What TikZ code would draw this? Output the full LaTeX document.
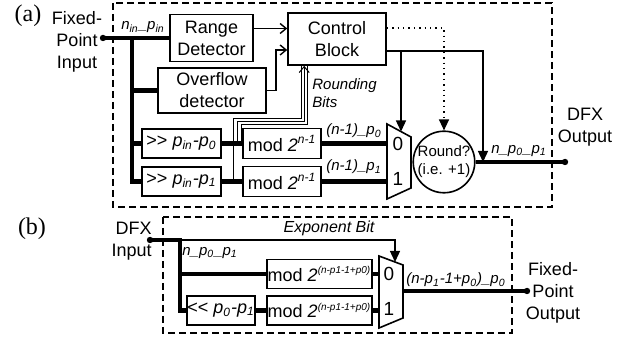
\documentclass[tikz,border=0pt]{standalone}
\usepackage{fontspec}
\setmainfont{Liberation Sans}
\newfontfamily\tagfont{Liberation Serif}
\usetikzlibrary{arrows.meta,calc}
\newcommand{\hi}[1]{\textsuperscript{\textit{#1}}}
\newcommand{\hib}[1]{\textsuperscript{\fontsize{5}{5}\selectfont\itshape #1}}
\newcommand{\lo}[1]{\textsubscript{#1}}

\begin{document}
\begin{tikzpicture}[x=0.5pt,y=-0.5pt,
  blk/.style={draw,line width=0.8pt,inner sep=0pt,align=center,font=\fontsize{9}{11}\selectfont},
  txt/.style={inner sep=0pt,align=center,font=\fontsize{9}{11}\selectfont},
  lbl/.style={inner sep=0pt,font=\fontsize{7.5}{9}\selectfont\itshape},
  pin/.style={inner sep=0pt,font=\fontsize{9.5}{10}\selectfont},
  bus/.style={line width=2.2pt},
  wire/.style={line width=0.7pt},
  rbw/.style={line width=0.5pt},
  grp/.style={draw,line width=0.6pt,dash pattern=on 3.5pt off 2pt},
  mux/.style={draw,line width=0.8pt,fill=white},
  barb/.style={-{Straight Barb[length=3pt,width=5pt]}},
  tri/.style={-{Triangle[length=5.5pt,width=5pt]}}]
  \useasboundingbox (0,0) rectangle (642,340);

  % ----- (a) -----
  \node[font=\fontsize{12}{12}\selectfont\tagfont] (taga) at (28,16) {(a)};
  \node[txt] (fpin) at (77,42) {Fixed-\\Point\\Input};
  \draw[grp] (113,3) rectangle (552,207);

  % detectors and control
  \node[blk,minimum width=41.5pt,minimum height=23.5pt] (rng) at (211.5,38) {Range\\Detector};
  \node[blk,minimum width=54pt,minimum height=22.5pt] (ovf) at (212,90.5) {Overflow\\detector};
  \node[blk,minimum width=49pt,minimum height=26pt] (ctl) at (337,39) {Control\\Block};

  % shifters and mods
  \node[blk,minimum width=39.5pt,minimum height=14.5pt] (shr0) at (181.5,143.5) {>{}> \textit{p\lo{in}-p\lo{0}}};
  \node[blk,minimum width=39.5pt,minimum height=14.5pt] (shr1) at (181.5,181.5) {>{}> \textit{p\lo{in}-p\lo{1}}};
  \node[blk,minimum width=39pt,minimum height=15pt] (moda0) at (282,143.5) {mod \textit{2}\hi{n-1}};
  \node[blk,minimum width=39pt,minimum height=15pt] (moda1) at (282,181.5) {mod \textit{2}\hi{n-1}};

  % mux
  \draw[mux] (387,124) -- (411,137) -- (411,188) -- (387,199) -- cycle;
  \coordinate (ma0) at (387,143.5);
  \coordinate (ma1) at (387,181.5);
  \coordinate (maout) at (411,162);
  \coordinate (masel) at (401,131.5);
  \node[pin] (ma0t) at (398,144) {0};
  \node[pin] (ma1t) at (398,179) {1};

  % rounding
  \node[draw,circle,line width=0.8pt,minimum size=28pt,inner sep=0pt,align=center,
        font=\fontsize{7.5}{9}\selectfont] (rnd) at (444,162) {Round?\\(i.e. +1)};
  \coordinate (tapa) at (483,162);
  \coordinate (outa) at (565,162);
  \node[txt] (dfxout) at (585,127) {DFX\\Output};

  % input bus
  \coordinate (ina) at (103,38);
  \coordinate (busa) at (132,38);
  \draw[bus] (ina) -- (rng.west);
  \draw[bus] (busa) |- (shr1.west);
  \draw[bus] (busa |- ovf.west) -- (ovf.west);
  \draw[bus] (busa |- shr0.west) -- (shr0.west);
  \fill (ina) circle (1.6pt);
  \node[lbl] (nina) at (143,27) {n\lo{in}\_p\lo{in}};

  \draw[bus] (shr0.east) -- (moda0.west);
  \draw[bus] (shr1.east) -- (moda1.west);
  \draw[bus] (moda0.east) -- (ma0);
  \draw[bus] (moda1.east) -- (ma1);
  \node[lbl] (la0) at (354,131) {(n-1)\_p\lo{0}};
  \node[lbl] (la1) at (354,167) {(n-1)\_p\lo{1}};
  \draw[bus] (maout) -- (rnd.west);
  \draw[bus] (rnd.east) -- (outa);
  \fill (outa) circle (1.6pt);
  \node[lbl] (npa) at (519,151) {n\_p\lo{0}\_p\lo{1}};

  % rounding bits
  \coordinate (rb1) at (233.5,181.5);
  \coordinate (rb2) at (237.5,143.5);
  \coordinate (rb3) at (241,143.5);
  \draw[rbw] (rb1) |- ($(ctl.south west)+(14,53)$) -- ($(ctl.south west)+(14,0)$);
  \draw[rbw,barb] (rb2) |- ($(ctl.south west)+(17,56)$) -- ($(ctl.south west)+(17,0)$);
  \draw[rbw] (rb3) |- ($(ctl.south west)+(20,59)$) -- ($(ctl.south west)+(20,0)$);
  \node[lbl,align=left,anchor=west] (rbl) at (312,93) {Rounding\\Bits};

  % control signals
  \draw[wire,barb] ([yshift=4.75pt]rng.east) -- ([yshift=4.75pt]rng.east -| ctl.west);
  \draw[wire,barb] (ovf.east) -- ++(9,0) |- ([yshift=-5.5pt]ctl.west);
  \draw[wire,dotted,tri] ([yshift=5.5pt]ctl.east) -| (rnd.north);
  \draw[wire,tri] ([yshift=-6pt]ctl.east) -| (tapa);
  \draw[wire,tri] ([yshift=-6pt]ctl.east) -| (masel);

  % ----- (b) -----
  \node[font=\fontsize{12}{12}\selectfont\tagfont] (tagb) at (32,229) {(b)};
  \node[txt,align=right,anchor=east] (dfxin) at (152,241) {DFX\\Input};
  \draw[grp] (163,217) rectangle (512,333);

  \node[blk,minimum width=34pt,minimum height=14.5pt] (shl) at (221,310.5) {<{}< \textit{p\lo{0}-p\lo{1}}};
  \node[blk,minimum width=52.5pt,minimum height=14.5pt] (modb0) at (319.5,274) {mod \textit{2}\hib{(n-p1-1+p0)}};
  \node[blk,minimum width=52.5pt,minimum height=14.5pt] (modb1) at (319.5,310.5) {mod \textit{2}\hib{(n-p1-1+p0)}};

  % mux
  \draw[mux] (379,256) -- (403,265) -- (403,318) -- (379,328) -- cycle;
  \coordinate (mb0) at (379,274);
  \coordinate (mb1) at (379,310.5);
  \coordinate (mbout) at (403,291);
  \coordinate (mbsel) at (395,262);
  \node[pin] (mb0t) at (389,274) {0};
  \node[pin] (mb1t) at (389,309) {1};

  % wires
  \coordinate (inb) at (150,240);
  \coordinate (busb) at (180,240);
  \draw[wire,tri] (busb) -| (mbsel);
  \draw[bus] (inb) -- (busb) |- (shl.west);
  \draw[bus] (busb |- modb0.west) -- (modb0.west);
  \fill (inb) circle (1.6pt);
  \node[lbl,anchor=west] (npb) at (182,253) {n\_p\lo{0}\_p\lo{1}};
  \node[lbl,font=\fontsize{8}{9}\selectfont\itshape] (expb) at (329,228) {Exponent Bit};
  \draw[bus] (shl.east) -- (modb1.west);
  \draw[bus] (modb0.east) -- (mb0);
  \draw[bus] (modb1.east) -- (mb1);
  \coordinate (outb) at (527,291);
  \draw[bus] (mbout) -- (outb);
  \fill (outb) circle (1.6pt);
  \node[lbl] (lb) at (456,280) {(n-p\lo{1}-1+p\lo{0})\_p\lo{0}};
  \node[txt] (fpout) at (553,293) {Fixed-\\Point\\Output};
\end{tikzpicture}
\end{document}
